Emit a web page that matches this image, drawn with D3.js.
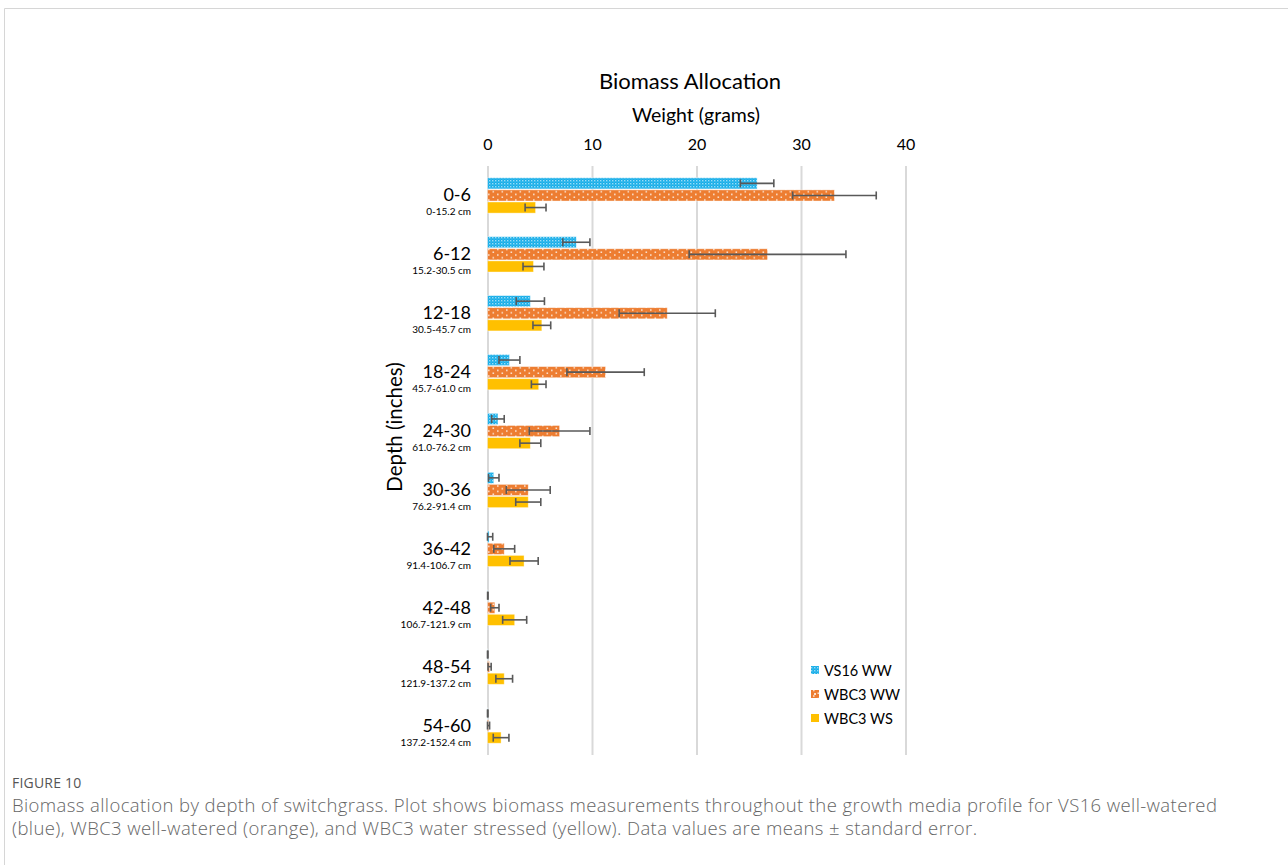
<!DOCTYPE html>
<html>
<head>
<meta charset="utf-8">
<script src="https://cdn.jsdelivr.net/npm/d3@7"></script>
<style>
  html, body { margin: 0; padding: 0; background: #fff; }
  svg { display: block; }
</style>
</head>
<body>
<svg id="chart" width="1288" height="865"></svg>
<script>
// Depth intervals (inches) and their metric equivalents
const depthIn = ["0-6", "6-12", "12-18", "18-24", "24-30", "30-36", "36-42", "42-48", "48-54", "54-60"];
const depthCm = ["0-15.2 cm", "15.2-30.5 cm", "30.5-45.7 cm", "45.7-61.0 cm", "61.0-76.2 cm",
                 "76.2-91.4 cm", "91.4-106.7 cm", "106.7-121.9 cm", "121.9-137.2 cm", "137.2-152.4 cm"];
const seriesNames = ["VS16 WW", "WBC3 WW", "WBC3 WS"];

// Mean biomass (g) and standard error per depth
const vs16ww   = [25.8, 8.5, 4.1, 2.1, 1.0, 0.6, 0.15, 0.03, 0.02, 0.02];
const vs16wwSe = [1.6, 1.3, 1.35, 1.0, 0.6, 0.5, 0.35, 0.02, 0.02, 0.02];
const wbc3ww   = [33.2, 26.8, 17.2, 11.3, 6.9, 3.9, 1.6, 0.7, 0.2, 0.1];
const wbc3wwSe = [4.0, 7.5, 4.6, 3.7, 2.9, 2.1, 1.0, 0.4, 0.15, 0.1];
const wbc3ws   = [4.6, 4.4, 5.2, 4.9, 4.1, 3.9, 3.5, 2.6, 1.6, 1.3];
const wbc3wsSe = [1.0, 1.0, 0.85, 0.7, 1.0, 1.2, 1.35, 1.15, 0.8, 0.75];

const xTicks = [0, 10, 20, 30, 40];

const seriesMeans = [vs16ww, wbc3ww, wbc3ws];
const seriesSe = [vs16wwSe, wbc3wwSe, wbc3wsSe];
const fills = ["url(#patBlue)", "url(#patOrange)", "#FFC000"];

const rows = [];
depthIn.forEach((d, i) => {
  seriesNames.forEach((s, j) => {
    rows.push({ depth: d, series: s, j, value: seriesMeans[j][i], se: seriesSe[j][i] });
  });
});

const svg = d3.select("#chart");
const font = "Lato, 'Open Sans', sans-serif";

// Fill patterns for the two well-watered series
const defs = svg.append("defs");
const pb = defs.append("pattern").attr("id", "patBlue").attr("patternUnits", "userSpaceOnUse")
  .attr("width", 3).attr("height", 3);
pb.append("rect").attr("width", 3).attr("height", 3).attr("fill", "#14ADE8");
pb.append("rect").attr("x", 0).attr("y", 0).attr("width", 1.4).attr("height", 1.4).attr("fill", "#9ADCF7");
pb.append("rect").attr("x", 1.5).attr("y", 1.5).attr("width", 1).attr("height", 1).attr("fill", "#6ACBF2");

const po = defs.append("pattern").attr("id", "patOrange").attr("patternUnits", "userSpaceOnUse")
  .attr("width", 9).attr("height", 5.5);
po.append("rect").attr("width", 9).attr("height", 5.5).attr("fill", "#ED7D31");
po.append("rect").attr("x", 2).attr("y", 1.2).attr("width", 1.6).attr("height", 1.6).attr("fill", "#FBE0CC");
po.append("rect").attr("x", 6.5).attr("y", 4).attr("width", 1.6).attr("height", 1.6).attr("fill", "#FBE0CC");

// Figure frame
svg.append("path").attr("d", "M4.5,865 V8.5 H1288")
  .attr("fill", "none").attr("stroke", "#d6d6d6").attr("stroke-width", 1);

// Scales
const x = d3.scaleLinear().domain([0, 40]).range([487.5, 905.5]);
const y = d3.scaleBand().domain(depthIn).range([166, 755]).paddingInner(0.4).paddingOuter(0.2);
const yInner = d3.scaleBand().domain(seriesNames).range([0, y.bandwidth()]).paddingInner(0.08);

// Title and axis title
svg.append("text").attr("x", 690).attr("y", 89).attr("text-anchor", "middle")
  .attr("font-family", font).attr("font-size", 22).attr("fill", "#000").text("Biomass Allocation");
svg.append("text").attr("x", 696).attr("y", 122).attr("text-anchor", "middle")
  .attr("font-family", font).attr("font-size", 19.5).attr("fill", "#000").text("Weight (grams)");

// Top axis with gridlines
const gx = svg.append("g").attr("transform", "translate(0,166)")
  .call(d3.axisTop(x).tickValues(xTicks).tickSize(-(755 - 166)).tickPadding(16));
gx.select(".domain").remove();
gx.selectAll(".tick line").attr("stroke", "#d9d9d9").attr("stroke-width", 2);
gx.selectAll(".tick text").attr("font-family", font).attr("font-size", 16).attr("fill", "#000");

// Category labels
const gy = svg.append("g");
depthIn.forEach((d, i) => {
  const cy = y(d) + y.bandwidth() / 2;
  gy.append("text").attr("x", 471).attr("y", cy + 6).attr("text-anchor", "end")
    .attr("font-family", font).attr("font-size", 18).attr("fill", "#000").text(d);
  gy.append("text").attr("x", 471).attr("y", cy + 20).attr("text-anchor", "end")
    .attr("font-family", font).attr("font-size", 10).attr("fill", "#000").text(depthCm[i]);
});

svg.append("text").attr("transform", "translate(402,427) rotate(-90)").attr("text-anchor", "middle")
  .attr("font-family", font).attr("font-size", 20.5).attr("fill", "#000").text("Depth (inches)");

// Bars
svg.append("g").selectAll("rect").data(rows).join("rect")
  .attr("x", x(0))
  .attr("y", d => y(d.depth) + yInner(d.series))
  .attr("width", d => x(d.value) - x(0))
  .attr("height", yInner.bandwidth())
  .attr("fill", d => fills[d.j])
  .attr("stroke", "#fff").attr("stroke-opacity", 0.5).attr("stroke-width", 0.8);

// Error bars (mean ± SE)
const eb = svg.append("g").attr("stroke", "#595959").attr("stroke-width", 1.6).attr("fill", "none");
rows.forEach(d => {
  const cy = y(d.depth) + yInner(d.series) + yInner.bandwidth() / 2;
  const x0 = x(Math.max(0, d.value - d.se)), x1 = x(d.value + d.se);
  eb.append("line").attr("x1", x0).attr("x2", x1).attr("y1", cy).attr("y2", cy);
  [x0, x1].forEach(xx => eb.append("line").attr("x1", xx).attr("x2", xx).attr("y1", cy - 4).attr("y2", cy + 4));
});

// Legend
const lg = svg.append("g").attr("transform", "translate(811,670)");
seriesNames.forEach((s, j) => {
  const g = lg.append("g").attr("transform", `translate(0,${j * 24})`);
  g.append("rect").attr("x", 0).attr("y", -4).attr("width", 8).attr("height", 8).attr("fill", fills[j]);
  if (j === 1) g.append("rect").attr("x", 3).attr("y", -1).attr("width", 2).attr("height", 2).attr("fill", "#FBE0CC");
  g.append("text").attr("x", 13).attr("y", 5.5).attr("font-family", font).attr("font-size", 14.5)
    .attr("fill", "#000").text(s);
});

// Caption
const capFont = "'Open Sans', 'Noto Sans', sans-serif";
svg.append("text").attr("x", 12).attr("y", 788).attr("font-family", capFont).attr("font-size", 14)
  .attr("font-weight", 500).attr("letter-spacing", 0.2).attr("fill", "#555").text("FIGURE 10");
svg.append("text").attr("x", 12).attr("y", 812).attr("font-family", capFont).attr("font-size", 18.5)
  .attr("font-weight", 300).attr("letter-spacing", 0.4).attr("fill", "#666")
  .text("Biomass allocation by depth of switchgrass. Plot shows biomass measurements throughout the growth media profile for VS16 well-watered");
svg.append("text").attr("x", 12).attr("y", 835).attr("font-family", capFont).attr("font-size", 18.5)
  .attr("font-weight", 300).attr("letter-spacing", 0.4).attr("fill", "#666")
  .text("(blue), WBC3 well-watered (orange), and WBC3 water stressed (yellow). Data values are means \u00B1 standard error.");
</script>
</body>
</html>
